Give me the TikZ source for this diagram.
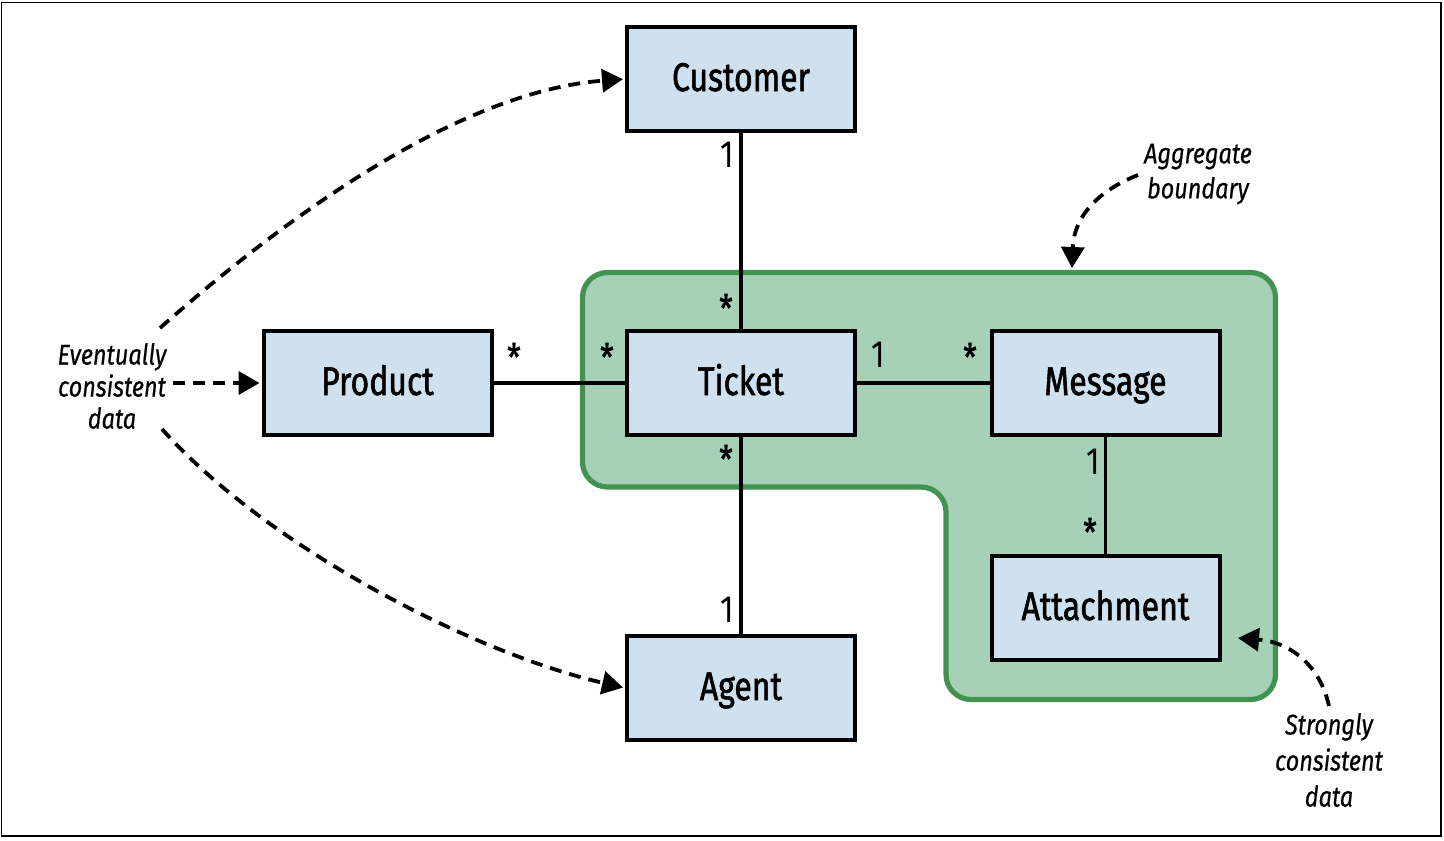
\documentclass[tikz,border=0pt]{standalone}
\usepackage{fontspec}
\setmainfont{Fira Sans}[FakeStretch=0.82]
\newfontfamily\boxfont{Fira Sans}[FakeStretch=0.8, FakeBold=1.4]
\newfontfamily\notefont{Fira Sans}[FakeStretch=0.82, FakeBold=0.5]
\usetikzlibrary{arrows.meta}
\definecolor{boxfill}{RGB}{207,225,238}
\definecolor{aggfill}{RGB}{166,209,182}
\definecolor{aggline}{RGB}{66,146,81}
\begin{document}
\begin{tikzpicture}[x=0.5pt,y=-0.5pt,
  ent/.style={draw, line width=2pt, fill=boxfill, minimum width=114pt, minimum height=52pt, inner sep=0pt, text height=16pt, text depth=4pt, font=\boxfont\fontsize{20}{24}\selectfont},
  conn/.style={line width=1.8pt},
  mult/.style={inner sep=0pt, font=\fontsize{19}{22}\selectfont},
  starl/.style={inner sep=0pt, font=\boxfont\fontsize{19}{22}\selectfont},
  note/.style={inner sep=0pt, align=center},
  darrow/.style={line width=1.9pt, dash pattern=on 6pt off 4pt, -{Triangle[length=10.5pt,width=11.5pt]}}]
\useasboundingbox (0,0) rectangle (1444,840);
\draw[line width=0.75pt] (1.5,2.5) rectangle (1441,836);
% aggregate boundary
\draw[aggline, fill=aggfill, line width=2.6pt, rounded corners=12.5pt]
  (800,272.5) -- (1275.5,272.5) -- (1275.5,699.5) -- (946,699.5) -- (946,487) -- (582.5,487) -- (582.5,272.5) -- cycle;
% entities
\node[ent] (cust) at (741,79) {Customer};
\node[ent] (prod) at (377.5,383) {Product};
\node[ent] (tick) at (741,383) {Ticket};
\node[ent] (msg) at (1105.5,383) {Message};
\node[ent] (att) at (1105.5,608) {Attachment};
\node[ent] (agent) at (741,688) {Agent};
% associations
\draw[conn] (cust) -- (tick);
\draw[conn] (prod) -- (tick);
\draw[conn] (tick) -- (msg);
\draw[conn] (tick) -- (agent);
\draw[conn] (msg) -- (att);
% multiplicities
\node[mult] (m1) at (727,155) {1};
\node[starl] (m2) at (726,308) {*};
\node[starl] (m3) at (514,357) {*};
\node[starl] (m4) at (607,357) {*};
\node[mult] (m5) at (878,355) {1};
\node[starl] (m6) at (970,357) {*};
\node[starl] (m7) at (726,459) {*};
\node[mult] (m8) at (727,610) {1};
\node[mult] (m9) at (1093,462) {1};
\node[starl] (m10) at (1090,532) {*};
% notes
\node[note, font=\notefont\itshape\fontsize{14.3}{16}\selectfont] (ev) at (112,386) {Eventually\\consistent\\data};
\node[note, font=\notefont\itshape\fontsize{14.3}{17.5}\selectfont] (agg) at (1198,174) {Aggregate\\boundary};
\node[note, font=\notefont\itshape\fontsize{14.3}{18}\selectfont] (str) at (1329,760) {Strongly\\consistent\\data};
% dashed arrows
\coordinate (e1) at (160,328);
\coordinate (e2) at (173,383);
\coordinate (e3) at (162,429);
\coordinate (a1) at (1138,175);
\coordinate (a2) at (1072,268);
\coordinate (s1) at (1329,706);
\coordinate (s2) at (1238,638);
\draw[darrow, shorten >=1pt] (e1) .. controls (272,229) and (452,92) .. (cust.west);
\draw[darrow, shorten >=1pt] (e2) -- (prod.west);
\draw[darrow, shorten >=1pt] (e3) .. controls (265,545) and (470,652) .. (agent.west);
\draw[darrow] (a1) .. controls (1100,190) and (1074,215) .. (a2);
\draw[darrow] (s1) .. controls (1320,665) and (1290,642) .. (s2);
\end{tikzpicture}
\end{document}
